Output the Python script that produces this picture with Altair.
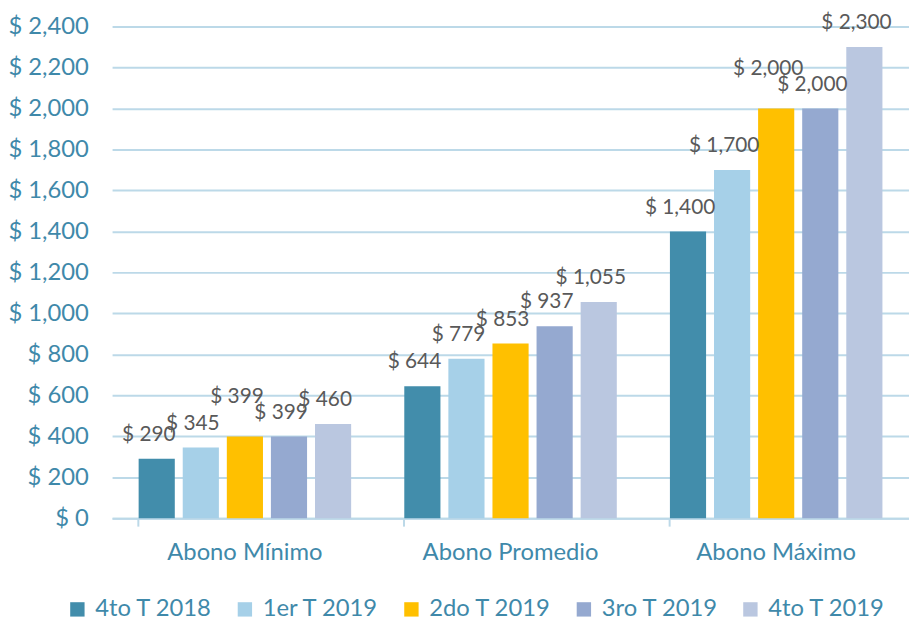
import json
import altair as alt
import pandas as pd

categories = ["Abono Mínimo", "Abono Promedio", "Abono Máximo"]
series = ["4to T 2018", "1er T 2019", "2do T 2019", "3ro T 2019", "4to T 2019"]
colors = ["#428DAB", "#A6D0E8", "#FFC000", "#95A9D0", "#BAC7E0"]
values = {
    "4to T 2018": [290, 644, 1400],
    "1er T 2019": [345, 779, 1700],
    "2do T 2019": [399, 853, 2000],
    "3ro T 2019": [399, 937, 2000],
    "4to T 2019": [460, 1055, 2300],
}

rows = []
for s in series:
    for c, v in zip(categories, values[s]):
        rows.append({"cat": c, "serie": s, "v": v})
df = pd.DataFrame(rows)

FONT = "Lato"
AXC = "#3F89AA"
GRID = "#BCD9E8"

x = alt.X("cat:N", sort=categories, title=None,
          scale=alt.Scale(paddingInner=0.2, paddingOuter=0.1),
          axis=alt.Axis(labelAngle=0, labelFont=FONT, labelFontSize=24, labelColor=AXC,
                        labelPadding=15, domainColor=GRID, domainWidth=2,
                        tickColor=GRID, tickWidth=2, tickSize=8, bandPosition=0, grid=False))
xo = alt.XOffset("serie:N", sort=series, scale=alt.Scale(paddingInner=0.18))
y = alt.Y("v:Q", title=None,
          scale=alt.Scale(domain=[0, 2400], nice=False),
          axis=alt.Axis(values=list(range(0, 2401, 200)), labelExpr="'$ ' + format(datum.value, ',')",
                        labelFont=FONT, labelFontSize=24, labelColor=AXC, labelPadding=24,
                        domain=False, ticks=False, gridColor=GRID, gridWidth=2))

color = alt.Color("serie:N", sort=series, title=None,
                  scale=alt.Scale(domain=series, range=colors),
                  legend=alt.Legend(orient="none", legendX=-47, legendY=576, direction="horizontal",
                                    symbolType="square", symbolSize=210, symbolStrokeWidth=0,
                                    labelFont=FONT, labelFontSize=24, labelColor=AXC,
                                    columnPadding=20, symbolOffset=0, labelOffset=6))

base = alt.Chart(df)
bars = base.mark_bar().encode(x=x, xOffset=xo, y=y, color=color)

# labels: a label is lifted when the next series in the same group has the same value
lab_base = base.transform_calculate(
    idx="indexof(" + json.dumps(series) + ", datum.serie)",
    lab="'$ ' + format(datum.v, ',')",
).transform_window(
    nextv="lead(v)", groupby=["cat"], sort=[alt.SortField("idx")]
)
text_style = dict(font=FONT, fontSize=21, color="#595959", baseline="middle", dx=-8)
labels = lab_base.transform_filter("datum.nextv != datum.v").mark_text(dy=-24, **text_style).encode(
    x=x, xOffset=xo, y=y, text="lab:N")
labels_up = lab_base.transform_filter("datum.nextv == datum.v").mark_text(dy=-40, **text_style).encode(
    x=x, xOffset=xo, y=y, text="lab:N")

chart = alt.layer(bars, labels, labels_up).properties(
    width=804, height=496,
    autosize=alt.AutoSizeParams(type="none"),
    padding={"left": 105, "top": 16, "right": 0, "bottom": 104},
).configure_view(stroke=None)

chart.save("out.html", embed_options={"renderer": "svg", "actions": False})
